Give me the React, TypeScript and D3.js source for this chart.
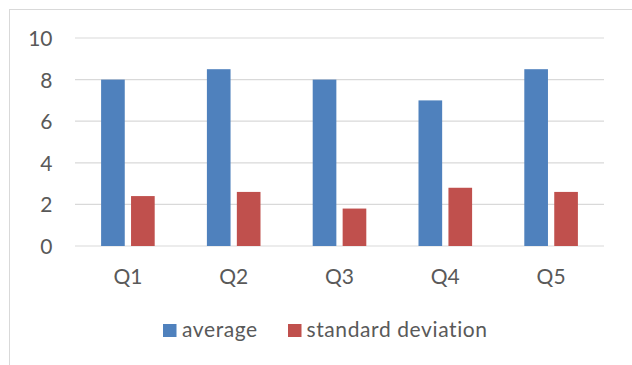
import React from "react";
import * as d3 from "d3";

const categories = ["Q1", "Q2", "Q3", "Q4", "Q5"];
const averageValues = [8.0, 8.5, 8.0, 7.0, 8.5];
const stdValues = [2.4, 2.6, 1.8, 2.8, 2.6];
const yTicks = [0, 2, 4, 6, 8, 10];
const seriesNames = ["average", "standard deviation"];
const colors = ["#4F81BD", "#C0504D"];

const W = 632;
const H = 365;
const FONT = "Lato, 'Open Sans', sans-serif";
const FS = 21;

export default function App() {
  const x = d3.scaleBand<string>().domain(categories).range([75, 604]).paddingInner(0).paddingOuter(0);
  const y = d3.scaleLinear().domain([0, 10]).range([246, 38]);
  const inner = d3.scaleBand<number>().domain([0, 1]).range([26.1, x.bandwidth() - 26.1]).paddingInner(0.21);
  const series = [averageValues, stdValues];

  return (
    <svg width={W} height={H} style={{ position: "absolute", left: 0, top: 0, background: "#fff" }}>
      <rect x={9.5} y={9.5} width={W + 20} height={H + 20} fill="#fff" stroke="#d9d9d9" strokeWidth={1} />
      {yTicks.map((t) => (
        <g key={t}>
          <line x1={75} x2={604} y1={y(t)} y2={y(t)} stroke="#d9d9d9" strokeWidth={1.2} />
          <text x={52.5} y={y(t) + 8} textAnchor="end" fontFamily={FONT} fontSize={FS} fill="#595959">
            {t}
          </text>
        </g>
      ))}
      {series.map((vals, si) =>
        vals.map((v, i) => (
          <rect
            key={`${si}-${i}`}
            x={(x(categories[i]) as number) + (inner(si) as number)}
            y={y(v)}
            width={inner.bandwidth()}
            height={y(0) - y(v)}
            fill={colors[si]}
          />
        ))
      )}
      {categories.map((c) => (
        <text key={c} x={(x(c) as number) + x.bandwidth() / 2} y={284} textAnchor="middle" fontFamily={FONT} fontSize={FS} fill="#595959">
          {c}
        </text>
      ))}
      <g>
        <rect x={163} y={324} width={13.5} height={13} fill={colors[0]} />
        <text x={182} y={337} fontFamily={FONT} fontSize={FS} letterSpacing={0.6} fill="#595959">{seriesNames[0]}</text>
        <rect x={288} y={324} width={13.5} height={13} fill={colors[1]} />
        <text x={306.5} y={337} fontFamily={FONT} fontSize={FS} letterSpacing={0.6} fill="#595959">{seriesNames[1]}</text>
      </g>
    </svg>
  );
}
